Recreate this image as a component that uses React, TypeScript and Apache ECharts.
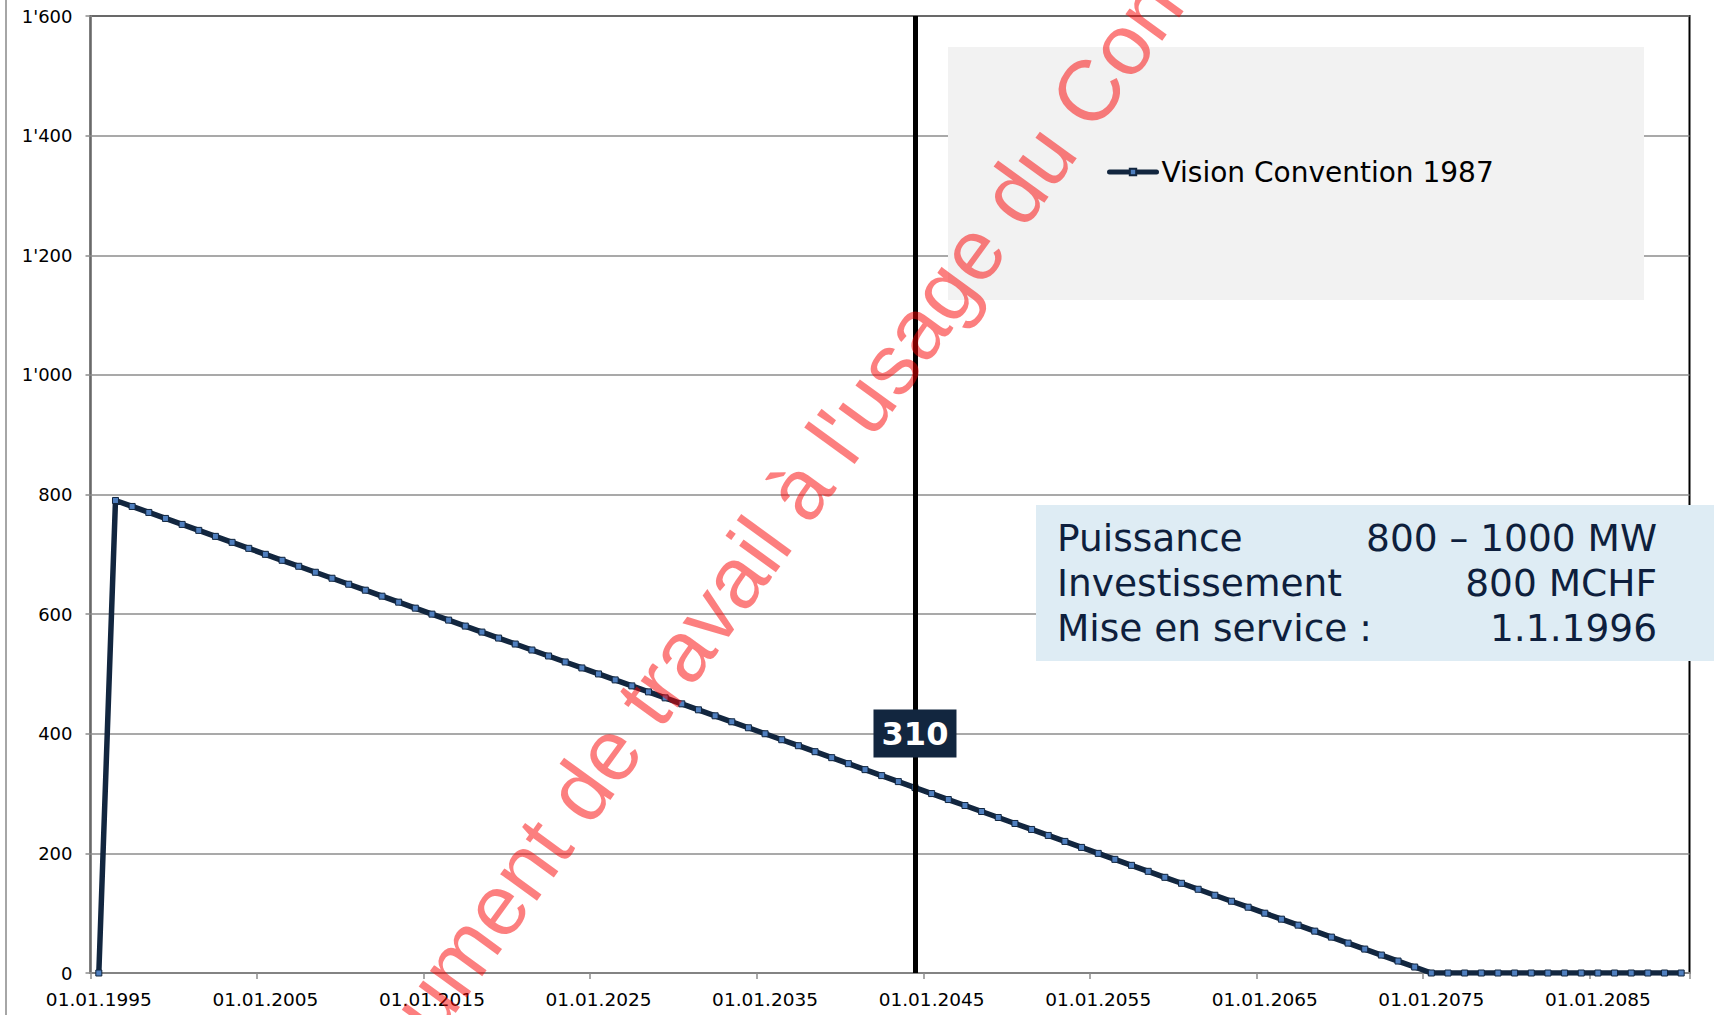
import React, { useEffect, useRef } from "react";
import * as echarts from "echarts";

const years: number[] = [
  1995, 1996, 1997, 1998, 1999, 2000, 2001, 2002, 2003, 2004,
  2005, 2006, 2007, 2008, 2009, 2010, 2011, 2012, 2013, 2014,
  2015, 2016, 2017, 2018, 2019, 2020, 2021, 2022, 2023, 2024,
  2025, 2026, 2027, 2028, 2029, 2030, 2031, 2032, 2033, 2034,
  2035, 2036, 2037, 2038, 2039, 2040, 2041, 2042, 2043, 2044,
  2045, 2046, 2047, 2048, 2049, 2050, 2051, 2052, 2053, 2054,
  2055, 2056, 2057, 2058, 2059, 2060, 2061, 2062, 2063, 2064,
  2065, 2066, 2067, 2068, 2069, 2070, 2071, 2072, 2073, 2074,
  2075, 2076, 2077, 2078, 2079, 2080, 2081, 2082, 2083, 2084,
  2085, 2086, 2087, 2088, 2089, 2090,
];

const visionValues: number[] = [
  0, 790, 780, 770, 760, 750, 740, 730, 720, 710,
  700, 690, 680, 670, 660, 650, 640, 630, 620, 610,
  600, 590, 580, 570, 560, 550, 540, 530, 520, 510,
  500, 490, 480, 470, 460, 450, 440, 430, 420, 410,
  400, 390, 380, 370, 360, 350, 340, 330, 320, 310,
  300, 290, 280, 270, 260, 250, 240, 230, 220, 210,
  200, 190, 180, 170, 160, 150, 140, 130, 120, 110,
  100, 90, 80, 70, 60, 50, 40, 30, 20, 10,
  0, 0, 0, 0, 0, 0, 0, 0, 0, 0,
  0, 0, 0, 0, 0, 0,
];

const seriesName = "Vision Convention 1987";
const markerYear = 2044;
const yMin = 0;
const yMax = 1600;
const yStep = 200;

const infoLabels: string[] = ["Puissance", "Investissement", "Mise en service :"];
const infoValues: string[] = ["800 – 1000 MW", "800 MCHF", "1.1.1996"];
const watermarkText = "Document de travail à l'usage du Conseil";

const FONT = "DejaVu Sans";
const NAVY = "#12263F";

const categoryLabels = years.map((y) => `01.01.${y}`);

function fmtThousands(v: number): string {
  if (v >= 1000) {
    const th = Math.floor(v / 1000);
    const rest = String(v % 1000).padStart(3, "0");
    return `${th}'${rest}`;
  }
  return String(v);
}

export default function App() {
  const ref = useRef<HTMLDivElement>(null);

  useEffect(() => {
    if (!ref.current) return;
    const chart = echarts.init(ref.current, undefined, { renderer: "svg" });
    const markIdx = years.indexOf(markerYear);
    const markVal = visionValues[markIdx];

    const infoTexts: any[] = [];
    const rowY = [538, 583, 628];
    infoLabels.forEach((t, i) => {
      infoTexts.push({
        type: "text",
        x: 1057,
        y: rowY[i],
        z: 6,
        style: {
          text: t,
          font: `37.5px '${FONT}'`,
          fill: "#0E1F3D",
          textAlign: "left",
          textVerticalAlign: "middle",
        },
      });
    });
    infoValues.forEach((t, i) => {
      infoTexts.push({
        type: "text",
        x: 1657,
        y: rowY[i],
        z: 6,
        style: {
          text: t,
          font: `37.5px '${FONT}'`,
          fill: "#0E1F3D",
          textAlign: "right",
          textVerticalAlign: "middle",
        },
      });
    });

    const angle = (54 * Math.PI) / 180;

    chart.setOption({
      animation: false,
      backgroundColor: "#ffffff",
      grid: {
        left: 90.5,
        right: 24.5,
        top: 16,
        bottom: 42,
        show: true,
        borderColor: "#000000",
        borderWidth: 2,
        backgroundColor: "transparent",
      },
      legend: {
        data: [seriesName],
        left: 1107,
        top: 158,
        padding: 0,
        itemWidth: 47,
        itemHeight: 8,
        itemGap: 0,
        lineStyle: { width: 5, color: NAVY, cap: "round" },
        textStyle: {
          fontFamily: FONT,
          fontSize: 28,
          lineHeight: 28,
          color: "#000000",
        },
        z: 5,
      },
      xAxis: {
        type: "category",
        data: categoryLabels,
        boundaryGap: true,
        axisLine: { show: true, lineStyle: { color: "#8C8C8C", width: 1.5 } },
        axisTick: {
          show: true,
          interval: 9,
          length: 6,
          lineStyle: { color: "#8C8C8C", width: 1.5 },
        },
        axisLabel: {
          interval: 9,
          fontFamily: FONT,
          fontSize: 18.5,
          color: "#000000",
          margin: 17,
        },
        splitLine: { show: false },
      },
      yAxis: {
        type: "value",
        min: yMin,
        max: yMax,
        interval: yStep,
        axisLine: { show: true, lineStyle: { color: "#8C8C8C", width: 1.5 } },
        axisTick: { show: true, length: 5, lineStyle: { color: "#8C8C8C", width: 1.5 } },
        axisLabel: {
          fontFamily: FONT,
          fontSize: 18,
          color: "#000000",
          margin: 18,
          formatter: (v: number) => fmtThousands(v),
        },
        splitLine: { show: true, lineStyle: { color: "#8C8C8C", width: 1.5 } },
      },
      series: [
        {
          name: seriesName,
          type: "line",
          data: visionValues,
          symbol: "rect",
          symbolSize: 6,
          showAllSymbol: true,
          lineStyle: { color: NAVY, width: 5.5 },
          itemStyle: { color: "#4F7FBF", borderColor: NAVY, borderWidth: 1 },
          emphasis: { disabled: true },
          markLine: {
            silent: true,
            symbol: ["none", "none"],
            label: { show: false },
            lineStyle: { color: "#000000", width: 5, type: "solid" },
            data: [{ xAxis: categoryLabels[markIdx] }],
          },
          markPoint: {
            silent: true,
            symbol: "rect",
            symbolSize: [83, 48],
            symbolOffset: [0, -54],
            itemStyle: { color: NAVY },
            label: {
              show: true,
              position: "inside",
              color: "#ffffff",
              fontFamily: FONT,
              fontWeight: "bold",
              fontSize: 32,
              formatter: (p: any) => String(p.value),
            },
            data: [{ coord: [categoryLabels[markIdx], markVal], value: markVal }],
          },
        },
      ],
      graphic: [
        {
          type: "line",
          z: 1,
          shape: { x1: 6, y1: 0, x2: 6, y2: 1015 },
          style: { stroke: "#A6A6A6", lineWidth: 2 },
        },
        {
          type: "rect",
          z: 3,
          shape: { x: 948, y: 47, width: 696, height: 253 },
          style: { fill: "#F2F2F2" },
        },
        {
          type: "rect",
          z: 5,
          shape: { x: 1036, y: 505, width: 678, height: 156 },
          style: { fill: "#DEECF4" },
        },
        ...infoTexts,
        {
          type: "text",
          z: 20,
          x: 321,
          y: 1147,
          rotation: angle,
          style: {
            text: watermarkText,
            font: `86px 'Liberation Sans'`,
            fill: "rgba(250,0,0,0.5)",
            textAlign: "left",
            textVerticalAlign: "middle",
          },
        },
      ],
    });

    return () => {
      chart.dispose();
    };
  }, []);

  return (
    <div
      ref={ref}
      style={{ position: "fixed", left: 0, top: 0, width: 1714, height: 1015 }}
    />
  );
}
